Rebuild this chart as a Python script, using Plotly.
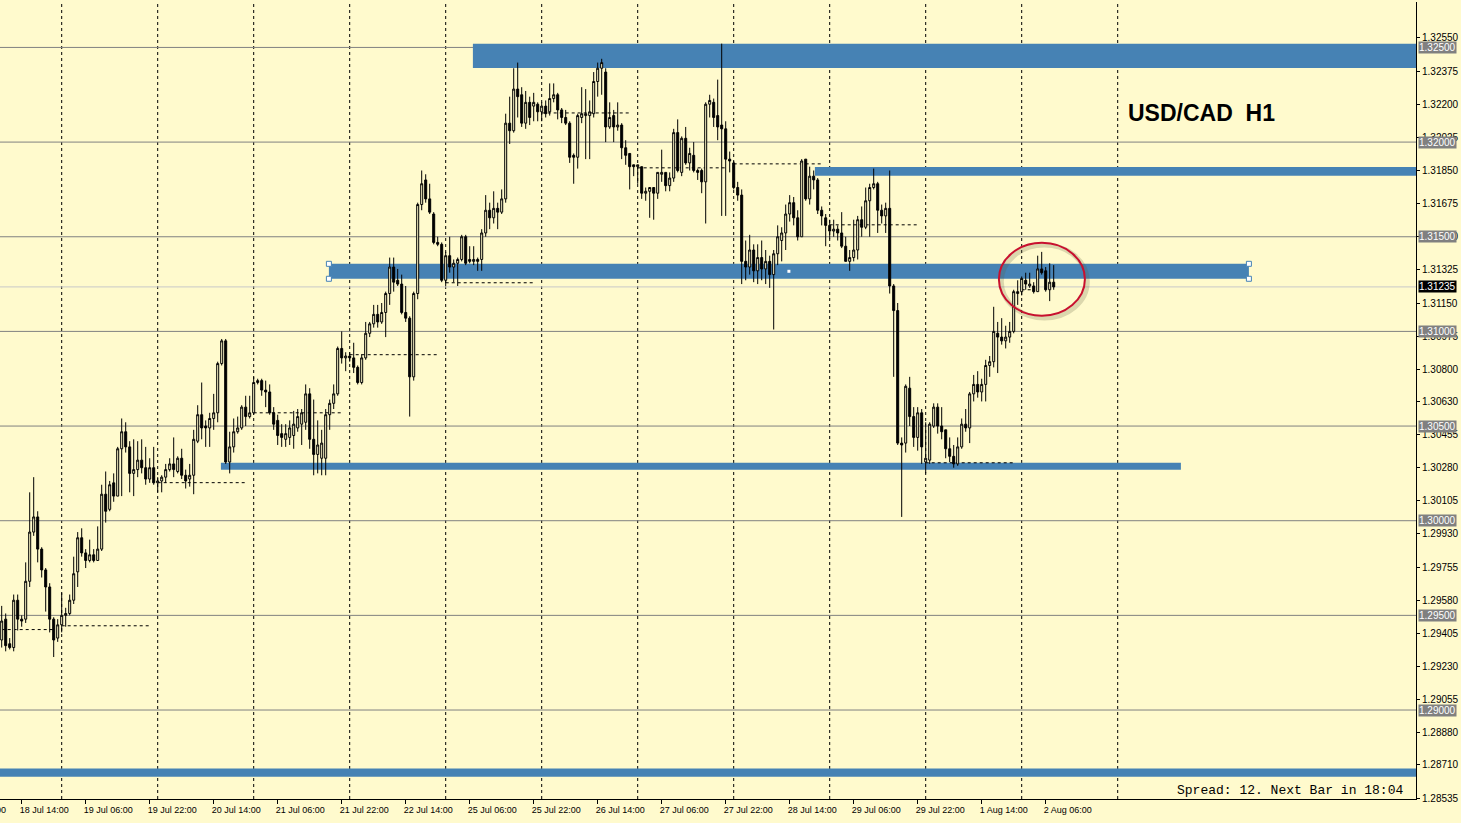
import plotly.graph_objects as go

BG = "#FFFACD"
BLUE = "#4682B4"

# ---------------- data ----------------
opens = [1.2937,1.2948,1.2935,1.2933,1.2958,1.2948,1.2948,1.2968,1.2994,1.3002,
 1.2985,1.2974,1.2965,1.2948,1.2938,1.2945,1.2950,1.2951,1.2958,1.2973,
 1.2991,1.2983,1.2979,1.2982,1.2979,1.2985,1.3014,1.3006,1.3020,1.3013,
 1.3038,1.3047,1.3039,1.3025,1.3027,1.3032,1.3028,1.3022,1.3028,1.3020,
 1.3021,1.3023,1.3027,1.3030,1.3026,1.3033,1.3024,1.3022,1.3024,1.3042,
 1.3056,1.3050,1.3049,1.3054,1.3057,1.3083,1.3095,1.3031,1.3039,1.3047,
 1.3049,1.3060,1.3055,1.3057,1.3073,1.3074,1.3069,1.3068,1.3057,1.3053,
 1.3046,1.3043,1.3044,1.3045,1.3049,1.3051,1.3052,1.3067,1.3043,1.3035,
 1.3033,1.3033,1.3056,1.3062,1.3067,1.3091,1.3086,1.3087,1.3086,1.3081,
 1.3073,1.3086,1.3099,1.3104,1.3109,1.3105,1.3110,1.3120,1.3134,1.3127,
 1.3125,1.3110,1.3107,1.3076,1.3120,1.3167,1.3180,1.3170,1.3162,1.3147,
 1.3146,1.3127,1.3140,1.3134,1.3136,1.3138,1.3150,1.3138,1.3137,1.3138,
 1.3138,1.3152,1.3164,1.3160,1.3165,1.3163,1.3170,1.3210,1.3206,1.3228,
 1.3225,1.3210,1.3221,1.3219,1.3220,1.3216,1.3219,1.3216,1.3223,1.3225,
 1.3217,1.3213,1.3210,1.3193,1.3192,1.3213,1.3214,1.3214,1.3215,1.3232,
 1.3239,1.3237,1.3208,1.3214,1.3208,1.3209,1.3197,1.3194,1.3188,1.3187,
 1.3187,1.3173,1.3174,1.3176,1.3173,1.3183,1.3184,1.3177,1.3181,1.3205,
 1.3184,1.3202,1.3189,1.3193,1.3185,1.3185,1.3179,1.3220,1.3221,1.3214,
 1.3209,1.3207,1.3191,1.3189,1.3176,1.3172,1.3137,1.3134,1.3143,1.3132,
 1.3139,1.3133,1.3137,1.3130,1.3141,1.3148,1.3152,1.3162,1.3168,1.3160,
 1.3150,1.3191,1.3170,1.3182,1.3180,1.3164,1.3160,1.3156,1.3153,1.3154,
 1.3152,1.3145,1.3137,1.3139,1.3143,1.3159,1.3155,1.3169,1.3176,1.3178,
 1.3164,1.3161,1.3165,1.3124,1.3111,1.3041,1.3041,1.3070,1.3055,1.3044,
 1.3057,1.3031,1.3032,1.3050,1.3060,1.3050,1.3048,1.3038,1.3034,1.3030,
 1.3039,1.3051,1.3049,1.3067,1.3072,1.3068,1.3072,1.3082,1.3084,1.3099,
 1.3097,1.3095,1.3097,1.3100,1.3120,1.3121,1.3127,1.3124,1.3124,1.3121,
 1.3133,1.3132,1.3122,1.3126]

highs = [1.2955,1.2951,1.2938,1.2961,1.2961,1.2950,1.2978,1.3015,1.3023,1.3005,
 1.2986,1.2975,1.2967,1.2949,1.2948,1.2962,1.2954,1.2961,1.2981,1.2994,
 1.2996,1.2985,1.2990,1.2985,1.2997,1.3019,1.3026,1.3021,1.3025,1.3039,
 1.3054,1.3052,1.3042,1.3043,1.3042,1.3043,1.3039,1.3033,1.3039,1.3023,
 1.3024,1.3030,1.3033,1.3044,1.3034,1.3038,1.3027,1.3030,1.3048,1.3061,
 1.3073,1.3053,1.3057,1.3067,1.3084,1.3096,1.3096,1.3047,1.3054,1.3055,
 1.3061,1.3066,1.3066,1.3076,1.3075,1.3075,1.3074,1.3072,1.3060,1.3056,
 1.3051,1.3051,1.3053,1.3058,1.3059,1.3059,1.3072,1.3070,1.3064,1.3053,
 1.3048,1.3059,1.3064,1.3072,1.3092,1.3100,1.3089,1.3089,1.3094,1.3082,
 1.3088,1.3105,1.3105,1.3114,1.3114,1.3115,1.3121,1.3139,1.3139,1.3133,
 1.3130,1.3124,1.3108,1.3121,1.3168,1.3185,1.3183,1.3178,1.3163,1.3150,
 1.3147,1.3142,1.3150,1.3138,1.3139,1.3151,1.3151,1.3145,1.3145,1.3139,
 1.3154,1.3172,1.3168,1.3174,1.3168,1.3175,1.3215,1.3224,1.3239,1.3242,
 1.3229,1.3227,1.3224,1.3226,1.3221,1.3221,1.3222,1.3231,1.3231,1.3226,
 1.3218,1.3217,1.3211,1.3194,1.3215,1.3229,1.3228,1.3222,1.3237,1.3242,
 1.3244,1.3239,1.3221,1.3217,1.3221,1.3210,1.3201,1.3194,1.3188,1.3188,
 1.3187,1.3176,1.3176,1.3176,1.3184,1.3196,1.3184,1.3184,1.3207,1.3212,
 1.3203,1.3208,1.3197,1.3200,1.3186,1.3186,1.3221,1.3225,1.3223,1.3233,
 1.3252,1.3211,1.3195,1.3190,1.3179,1.3175,1.3148,1.3151,1.3146,1.3146,
 1.3148,1.3143,1.3140,1.3143,1.3156,1.3155,1.3167,1.3172,1.3171,1.3164,
 1.3191,1.3191,1.3187,1.3185,1.3181,1.3166,1.3162,1.3159,1.3159,1.3156,
 1.3163,1.3150,1.3143,1.3159,1.3161,1.3166,1.3176,1.3178,1.3186,1.3179,
 1.3167,1.3168,1.3185,1.3125,1.3115,1.3044,1.3072,1.3076,1.3060,1.3060,
 1.3059,1.3052,1.3052,1.3062,1.3062,1.3060,1.3048,1.3044,1.3040,1.3044,
 1.3054,1.3059,1.3068,1.3077,1.3079,1.3075,1.3085,1.3087,1.3113,1.3105,
 1.3107,1.3103,1.3105,1.3122,1.3127,1.3129,1.3131,1.3131,1.3126,1.3140,
 1.3142,1.3134,1.3136,1.3135]

lows = [1.2933,1.2931,1.2932,1.2931,1.2942,1.2944,1.2946,1.2965,1.2992,1.2978,
 1.2970,1.2952,1.2941,1.2928,1.2936,1.2941,1.2944,1.2950,1.2956,1.2965,
 1.2981,1.2975,1.2978,1.2978,1.2979,1.2984,1.2999,1.3005,1.3010,1.3013,
 1.3013,1.3036,1.3015,1.3013,1.3023,1.3025,1.3019,1.3020,1.3019,1.3015,
 1.3015,1.3020,1.3026,1.3023,1.3025,1.3022,1.3017,1.3018,1.3014,1.3041,
 1.3043,1.3039,1.3039,1.3048,1.3052,1.3082,1.3030,1.3025,1.3036,1.3046,
 1.3048,1.3050,1.3054,1.3056,1.3072,1.3066,1.3060,1.3056,1.3048,1.3040,
 1.3039,1.3039,1.3040,1.3038,1.3047,1.3040,1.3048,1.3038,1.3024,1.3025,
 1.3024,1.3024,1.3048,1.3059,1.3066,1.3083,1.3079,1.3084,1.3078,1.3072,
 1.3072,1.3085,1.3097,1.3102,1.3102,1.3104,1.3097,1.3114,1.3121,1.3124,
 1.3109,1.3105,1.3055,1.3074,1.3117,1.3164,1.3168,1.3162,1.3146,1.3145,
 1.3126,1.3124,1.3131,1.3126,1.3124,1.3137,1.3135,1.3136,1.3135,1.3132,
 1.3132,1.3150,1.3154,1.3157,1.3154,1.3162,1.3168,1.3199,1.3205,1.3213,
 1.3208,1.3207,1.3209,1.3211,1.3211,1.3211,1.3213,1.3214,1.3221,1.3212,
 1.3210,1.3209,1.3189,1.3178,1.3186,1.3210,1.3191,1.3191,1.3213,1.3224,
 1.3225,1.3200,1.3207,1.3200,1.3206,1.3191,1.3188,1.3175,1.3182,1.3178,
 1.3170,1.3169,1.3160,1.3159,1.3170,1.3179,1.3174,1.3174,1.3179,1.3184,
 1.3182,1.3188,1.3185,1.3184,1.3180,1.3173,1.3157,1.3213,1.3208,1.3201,
 1.3161,1.3161,1.3184,1.3175,1.3169,1.3125,1.3127,1.3130,1.3126,1.3125,
 1.3127,1.3125,1.3123,1.3101,1.3135,1.3137,1.3143,1.3158,1.3156,1.3148,
 1.3150,1.3169,1.3167,1.3175,1.3162,1.3156,1.3145,1.3149,1.3150,1.3148,
 1.3144,1.3137,1.3132,1.3137,1.3138,1.3150,1.3154,1.3150,1.3175,1.3152,
 1.3157,1.3152,1.3120,1.3076,1.3040,1.3002,1.3036,1.3050,1.3039,1.3037,
 1.3030,1.3025,1.3030,1.3049,1.3046,1.3043,1.3033,1.3031,1.3028,1.3029,
 1.3038,1.3047,1.3041,1.3063,1.3065,1.3063,1.3063,1.3076,1.3081,1.3078,
 1.3093,1.3091,1.3094,1.3099,1.3114,1.3119,1.3122,1.3123,1.3120,1.3121,
 1.3130,1.3121,1.3116,1.3122]

closes = [1.2947,1.2934,1.2933,1.2958,1.2948,1.2947,1.2968,1.2994,1.3002,1.2985,
 1.2974,1.2965,1.2948,1.2937,1.2945,1.2950,1.2951,1.2958,1.2972,1.2991,
 1.2983,1.2979,1.2982,1.2979,1.2985,1.3014,1.3005,1.3019,1.3013,1.3038,
 1.3047,1.3039,1.3025,1.3027,1.3032,1.3028,1.3022,1.3028,1.3020,1.3021,
 1.3023,1.3027,1.3030,1.3027,1.3033,1.3024,1.3021,1.3024,1.3043,1.3056,
 1.3049,1.3049,1.3054,1.3057,1.3083,1.3095,1.3031,1.3039,1.3047,1.3049,
 1.3060,1.3055,1.3057,1.3073,1.3074,1.3069,1.3068,1.3057,1.3051,1.3045,
 1.3044,1.3046,1.3049,1.3051,1.3055,1.3057,1.3067,1.3043,1.3035,1.3040,
 1.3041,1.3056,1.3062,1.3067,1.3091,1.3086,1.3087,1.3086,1.3081,1.3073,
 1.3086,1.3099,1.3104,1.3109,1.3105,1.3110,1.3120,1.3134,1.3126,1.3125,
 1.3110,1.3107,1.3076,1.3120,1.3167,1.3178,1.3170,1.3163,1.3147,1.3146,
 1.3127,1.3140,1.3134,1.3136,1.3138,1.3150,1.3136,1.3137,1.3138,1.3137,
 1.3152,1.3164,1.3160,1.3165,1.3163,1.3170,1.3210,1.3206,1.3228,1.3224,
 1.3210,1.3221,1.3213,1.3221,1.3216,1.3219,1.3215,1.3223,1.3225,1.3217,
 1.3213,1.3210,1.3192,1.3192,1.3214,1.3215,1.3215,1.3216,1.3232,1.3239,
 1.3242,1.3208,1.3213,1.3208,1.3209,1.3197,1.3193,1.3187,1.3187,1.3188,
 1.3173,1.3174,1.3176,1.3173,1.3184,1.3184,1.3177,1.3181,1.3205,1.3185,
 1.3202,1.3189,1.3194,1.3185,1.3184,1.3179,1.3220,1.3222,1.3213,1.3208,
 1.3207,1.3191,1.3190,1.3176,1.3172,1.3137,1.3134,1.3143,1.3132,1.3139,
 1.3133,1.3137,1.3130,1.3141,1.3150,1.3152,1.3162,1.3168,1.3160,1.3150,
 1.3190,1.3170,1.3182,1.3180,1.3164,1.3161,1.3156,1.3153,1.3154,1.3152,
 1.3145,1.3137,1.3139,1.3143,1.3159,1.3155,1.3169,1.3176,1.3178,1.3164,
 1.3161,1.3165,1.3124,1.3111,1.3041,1.3040,1.3071,1.3055,1.3044,1.3057,
 1.3039,1.3033,1.3051,1.3060,1.3050,1.3047,1.3038,1.3034,1.3030,1.3039,
 1.3051,1.3049,1.3067,1.3072,1.3068,1.3072,1.3082,1.3084,1.3100,1.3097,
 1.3095,1.3097,1.3100,1.3121,1.3121,1.3128,1.3125,1.3125,1.3121,1.3133,
 1.3131,1.3122,1.3126,1.31235]

bars = list(range(len(closes)))

x_tick_bars = [5, 21, 37, 53, 69, 85, 101, 117, 133, 149, 165, 181, 197, 213, 229, 245, 261]
x_tick_labels = ["18 Jul 14:00", "19 Jul 06:00", "19 Jul 22:00", "20 Jul 14:00", "21 Jul 06:00",
                 "21 Jul 22:00", "22 Jul 14:00", "25 Jul 06:00", "25 Jul 22:00", "26 Jul 14:00",
                 "27 Jul 06:00", "27 Jul 22:00", "28 Jul 14:00", "29 Jul 06:00", "29 Jul 22:00",
                 "1 Aug 14:00", "2 Aug 06:00"]
first_cut_label = "15 Jul 22:00"

y_tick_text = ["1.28535", "1.28710", "1.28880", "1.29055", "1.29230", "1.29405", "1.29580",
               "1.29755", "1.29930", "1.30105", "1.30280", "1.30455", "1.30630", "1.30800",
               "1.30975", "1.31150", "1.31325", "1.31500", "1.31675", "1.31850", "1.32025",
               "1.32200", "1.32375", "1.32550"]
y_tick_vals = [float(t) for t in y_tick_text]

round_levels = [1.32500, 1.32000, 1.31500, 1.31000, 1.30500, 1.30000, 1.29500, 1.29000]
bid_price = 1.31235

grid_bars = [15, 39, 63, 87, 111, 135, 159, 183, 207, 231, 255, 279]

# support / resistance zones (price top, price bottom, first bar, last bar)
zone_top = [1.32519, 1.31869, 1.31357, 1.30306, 1.28691]
zone_bottom = [1.32392, 1.31822, 1.31278, 1.30269, 1.28648]
zone_start = [117.8, 203.3, 81.8, 54.8, -5.0]
zone_end = [400.0, 400.0, 311.8, 294.8, 400.0]
selected_zone = 2

# dashed daily level segments
seg_level = [1.29425, 1.29445, 1.30201, 1.30570, 1.30877, 1.31257, 1.32154,
             1.31864, 1.31885, 1.31563, 1.30306, 1.31220]
seg_start = [-9, 15, 39, 63, 87, 111, 135, 159, 183, 207, 231, 255]
seg_end = [13, 37, 61, 85, 109, 133, 157, 181, 205, 229, 253, 258]

# highlight ellipse (bar range, price range)
ellipse_bars = (249.3, 270.8)
ellipse_prices = (1.31083, 1.31468)

# ---------------- figure ----------------
fig = go.Figure()

fig.add_trace(go.Candlestick(
    x=bars, open=opens, high=highs, low=lows, close=closes,
    increasing=dict(line=dict(color="black", width=1), fillcolor=BG),
    decreasing=dict(line=dict(color="black", width=1), fillcolor="black"),
    whiskerwidth=0, hoverinfo="skip", showlegend=False,
))

sz = selected_zone
hx = [zone_start[sz], zone_start[sz], zone_end[sz], zone_end[sz]]
hy = [zone_top[sz], zone_bottom[sz], zone_top[sz], zone_bottom[sz]]
fig.add_trace(go.Scatter(
    x=hx, y=hy, mode="markers", hoverinfo="skip", showlegend=False,
    marker=dict(symbol="square", size=5, color="white", line=dict(color=BLUE, width=1)),
))
fig.add_trace(go.Scatter(
    x=[(zone_start[sz] + zone_end[sz]) / 2], y=[(zone_top[sz] + zone_bottom[sz]) / 2],
    mode="markers", hoverinfo="skip", showlegend=False,
    marker=dict(symbol="square", size=3, color="white", line=dict(width=0)),
))

shapes = []
for b in grid_bars:
    shapes.append(dict(type="line", xref="x", yref="paper", x0=b, x1=b, y0=0, y1=1,
                       line=dict(color="black", width=1, dash="3px,3px"), layer="below"))
for lv in round_levels:
    shapes.append(dict(type="line", xref="paper", yref="y", x0=0, x1=1, y0=lv, y1=lv,
                       line=dict(color="#808080", width=1), layer="below"))
shapes.append(dict(type="line", xref="paper", yref="y", x0=0, x1=1, y0=bid_price, y1=bid_price,
                   line=dict(color="#C8C8C8", width=1), layer="below"))
for t, bt, s, e in zip(zone_top, zone_bottom, zone_start, zone_end):
    shapes.append(dict(type="rect", xref="x", yref="y", x0=s, x1=e, y0=bt, y1=t,
                       fillcolor=BLUE, line=dict(width=0), layer="below"))
for lv, s, e in zip(seg_level, seg_start, seg_end):
    shapes.append(dict(type="line", xref="x", yref="y", x0=s, x1=e, y0=lv, y1=lv,
                       line=dict(color="black", width=1, dash="3px,3px"), layer="below"))
# ellipse shadow + ellipse
shapes.append(dict(type="circle", xref="x", yref="y",
                   x0=ellipse_bars[0] + 0.6, x1=ellipse_bars[1] + 0.6,
                   y0=ellipse_prices[0] - 0.00012, y1=ellipse_prices[1] - 0.00012,
                   line=dict(color="rgba(90,90,60,0.22)", width=5)))
shapes.append(dict(type="circle", xref="x", yref="y",
                   x0=ellipse_bars[0], x1=ellipse_bars[1],
                   y0=ellipse_prices[0], y1=ellipse_prices[1],
                   line=dict(color="#C8102E", width=2)))

annotations = []
for lv in round_levels:
    annotations.append(dict(xref="paper", yref="y", x=1, y=lv, xshift=2, xanchor="left",
                            yanchor="middle", text=f"{lv:.5f}", showarrow=False,
                            font=dict(family="Liberation Sans", size=10, color="white"),
                            bgcolor="#808080", borderpad=0))
annotations.append(dict(xref="paper", yref="y", x=1, y=bid_price, xshift=2, xanchor="left",
                        yanchor="middle", text=f"{bid_price:.5f}", showarrow=False,
                        font=dict(family="Liberation Sans", size=10, color="white"),
                        bgcolor="black", borderpad=0))
annotations.append(dict(xref="paper", yref="paper", x=1126 / 1416, y=0.8607, xanchor="left",
                        yanchor="middle", text="<b>USD/CAD\u00a0 H1</b>", showarrow=False,
                        font=dict(family="Liberation Sans", size=23, color="black")))
annotations.append(dict(xref="paper", yref="paper", x=1405 / 1416, y=0.0105, xanchor="right",
                        yanchor="middle", text="Spread: 12. Next Bar in 18:04", showarrow=False,
                        font=dict(family="Liberation Mono", size=13, color="black")))
annotations.append(dict(xref="paper", yref="paper", x=-45 / 1416, y=0, yshift=-11,
                        xanchor="left", yanchor="middle", text=first_cut_label, showarrow=False,
                        font=dict(family="Liberation Sans", size=9, color="black")))

fig.update_layout(
    width=1461, height=823,
    margin=dict(l=0, r=45, t=2, b=24),
    paper_bgcolor=BG, plot_bgcolor=BG,
    font=dict(family="Liberation Sans", size=10, color="black"),
    showlegend=False,
    shapes=shapes, annotations=annotations,
    boxgap=0.5, boxgroupgap=0,
    xaxis=dict(range=[-0.425, 353.575], showgrid=False, zeroline=False,
               rangeslider=dict(visible=False),
               tickmode="array", tickvals=x_tick_bars, ticktext=x_tick_labels,
               ticks="outside", ticklen=4, tickcolor="black",
               ticklabelposition="outside right", ticklabelshift=-3, ticklabelstandoff=2,
               tickfont=dict(family="Liberation Sans", size=9, color="black"),
               showline=True, linecolor="black", linewidth=1, fixedrange=True),
    yaxis=dict(range=[1.28530, 1.32740], side="right", showgrid=False, zeroline=False,
               tickmode="array", tickvals=y_tick_vals, ticktext=y_tick_text,
               ticks="outside", ticklen=3, tickcolor="black",
               tickfont=dict(family="Liberation Sans", size=10, color="black"),
               showline=True, linecolor="black", linewidth=1, fixedrange=True),
)

fig.write_html("out.html")
